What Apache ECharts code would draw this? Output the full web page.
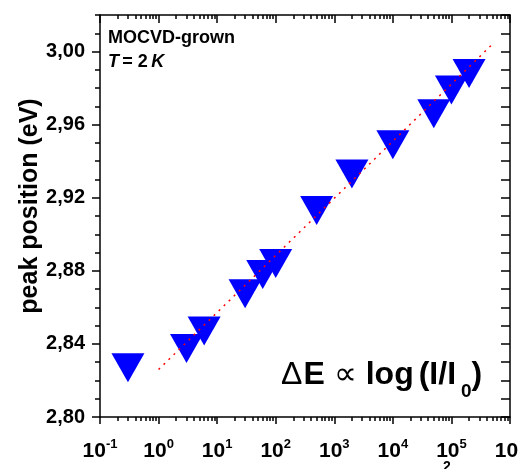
<!DOCTYPE html>
<html>
<head>
<meta charset="utf-8">
<script src="https://cdn.jsdelivr.net/npm/echarts@6/dist/echarts.min.js"></script>
<style>
    body { margin: 0; background: #fff; }
    #main { width: 518px; height: 469px; }
</style>
</head>
<body>
<div id="main"></div>
<script>
/*
 * peak position vs excitation intensity (MOCVD-grown, T = 2 K)
 */

// measured points
var intensity = [0.3, 3, 6, 30, 60, 100, 500, 2000, 10000, 50000, 100000, 200000];
var peakEnergy = [2.827, 2.8375, 2.847, 2.8675, 2.878, 2.884, 2.913, 2.933, 2.949, 2.966, 2.979, 2.988];

// dotted fit line: dE ~ log(I/I0)
var fitIntensity = [1, 500000];
var fitEnergy = [2.826, 3.004];

// tick labels
var decadeExp = [-1, 0, 1, 2, 3, 4, 5, 6];
var energyTicks = [2.80, 2.84, 2.88, 2.92, 2.96, 3.00];

var FONT = "'Liberation Sans', Arial, sans-serif";

// minor ticks (log axis 2..9 per decade, energy every 0.01)
var decadeMinor = [];
for (var d = -1; d < 6; d++) {
    for (var m = 2; m <= 9; m++) {
        decadeMinor.push(d + Math.log10(m));
    }
}
var energyMinor = [];
for (var k = 0; k <= 22; k++) {
    var e = +(2.80 + k * 0.01).toFixed(2);
    if (energyTicks.indexOf(e) < 0) energyMinor.push(e);
}

function pairs(xs, ys) {
    var out = [];
    for (var i = 0; i < xs.length; i++) out.push([xs[i], ys[i]]);
    return out;
}

var black = { color: '#000', width: 1.5 };

function helperX(pos, values, len, inside, showLine) {
    return {
        type: 'value', min: -1, max: 6, position: pos,
        axisLine: { show: showLine, onZero: false, lineStyle: black },
        axisTick: { show: true, inside: inside, length: len, customValues: values, lineStyle: black },
        axisLabel: { show: false },
        splitLine: { show: false }
    };
}

function helperY(pos, values, len, inside, showLine) {
    return {
        type: 'value', min: 2.80, max: 3.02, position: pos,
        axisLine: { show: showLine, onZero: false, lineStyle: black },
        axisTick: { show: true, inside: inside, length: len, customValues: values, lineStyle: black },
        axisLabel: { show: false },
        splitLine: { show: false }
    };
}

var chart = echarts.init(document.getElementById('main'), null, { renderer: 'canvas' });

var option = {
    animation: false,
    backgroundColor: '#fff',
    grid: { left: 100, right: 8, top: 15, bottom: 52, outerBoundsMode: 'none' },
    xAxis: [
        {
            type: 'log', logBase: 10, min: 0.1, max: 1000000, position: 'bottom',
            axisLine: { show: true, onZero: false, lineStyle: black },
            axisTick: { show: true, inside: false, length: 7, lineStyle: black },
            axisLabel: {
                margin: 21,
                color: '#000',
                fontFamily: FONT,
                fontSize: 21,
                fontWeight: 'bold',
                showMinLabel: true,
                showMaxLabel: true,
                alignMinLabel: 'center',
                alignMaxLabel: 'center',
                hideOverlap: false,
                formatter: function (v) {
                    var p = Math.round(Math.log10(v));
                    return '{b|10}{s|' + p + '}';
                },
                rich: {
                    b: { fontFamily: FONT, fontSize: 21, fontWeight: 'bold', color: '#000', lineHeight: 24, verticalAlign: 'bottom' },
                    s: { fontFamily: FONT, fontSize: 13, fontWeight: 'bold', color: '#000', lineHeight: 13, verticalAlign: 'top' }
                }
            },
            splitLine: { show: false }
        },
        helperX('bottom', decadeMinor, 4, false, false),
        helperX('top', decadeExp, 8, true, true),
        helperX('top', decadeMinor, 4, true, false)
    ],
    yAxis: [
        {
            type: 'value', min: 2.80, max: 3.02, position: 'left',
            axisLine: { show: true, onZero: false, lineStyle: black },
            axisTick: { show: true, inside: false, length: 8, customValues: energyTicks, lineStyle: black },
            axisLabel: {
                customValues: energyTicks,
                margin: 15,
                color: '#000',
                fontFamily: FONT,
                fontSize: 20,
                fontWeight: 'bold',
                formatter: function (v) {
                    return v.toFixed(2).replace('.', ',');
                }
            },
            splitLine: { show: false }
        },
        helperY('left', energyMinor, 5, false, false),
        helperY('right', energyTicks, 9, true, true),
        helperY('right', energyMinor, 9, true, false)
    ],
    series: [
        {
            name: 'peak',
            type: 'scatter',
            xAxisIndex: 0,
            yAxisIndex: 0,
            symbol: 'triangle',
            symbolRotate: 180,
            symbolSize: [33, 29],
            itemStyle: { color: '#0000ff', opacity: 1 },
            data: pairs(intensity, peakEnergy),
            z: 2
        },
        {
            name: 'fit',
            type: 'line',
            xAxisIndex: 0,
            yAxisIndex: 0,
            showSymbol: false,
            symbol: 'none',
            lineStyle: { color: '#ff0000', width: 1.5, type: [2, 5] },
            data: pairs(fitIntensity, fitEnergy),
            z: 3
        }
    ],
    graphic: [
        {
            type: 'text', x: 108, y: 38,
            style: {
                text: 'MOCVD-grown',
                font: 'bold 18px ' + FONT,
                fill: '#000',
                verticalAlign: 'middle'
            }
        },
        {
            type: 'text', x: 108, y: 62,
            style: {
                text: '{i|T} {b|= 2} {i|K}',
                verticalAlign: 'middle',
                rich: {
                    i: { font: 'italic bold 18px ' + FONT, fill: '#000' },
                    b: { font: 'bold 18px ' + FONT, fill: '#000' }
                }
            }
        },
        {
            type: 'text', x: 281, y: 373,
            style: {
                text: '{d|\u0394}{e|E}{n|\u221d}{b|log}{b|(I/I}{s|0}{b|)}',
                verticalAlign: 'middle',
                rich: {
                    d: { font: '32px ' + FONT, fill: '#000', lineHeight: 36, verticalAlign: 'bottom' },
                    e: { font: 'bold 32px ' + FONT, fill: '#000', lineHeight: 36, verticalAlign: 'bottom', padding: [0, 9, 0, 1] },
                    n: { font: '32px ' + FONT, fill: '#000', lineHeight: 36, verticalAlign: 'bottom', padding: [0, 9, 0, 0] },
                    b: { font: 'bold 32px ' + FONT, fill: '#000', lineHeight: 36, verticalAlign: 'bottom', padding: [0, 5, 0, 0] },
                    s: { font: 'bold 19px ' + FONT, fill: '#000', lineHeight: 14, verticalAlign: 'bottom', padding: [0, 0, -10, 0] }
                }
            }
        },
        {
            type: 'text', x: 30, y: 206, rotation: Math.PI / 2,
            style: {
                text: 'peak position (eV)',
                font: 'bold 25px ' + FONT,
                fill: '#000',
                align: 'center',
                verticalAlign: 'middle'
            }
        },
        {
            type: 'text', x: 447, y: 460,
            style: {
                text: '2',
                font: 'bold 14px ' + FONT,
                fill: '#000',
                align: 'center',
                verticalAlign: 'top'
            }
        }
    ]
};

chart.setOption(option);
</script>
</body>
</html>
